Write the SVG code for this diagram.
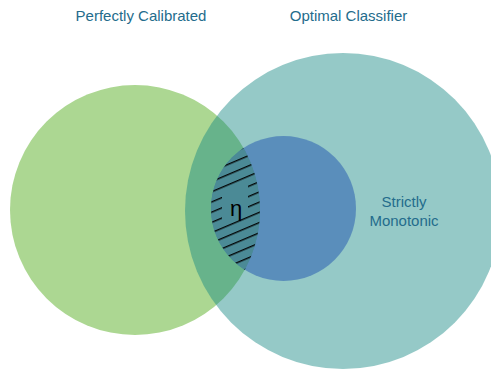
<svg xmlns="http://www.w3.org/2000/svg" width="491" height="370" viewBox="0 0 491 370">
  <style>
    .title { font-family: "Liberation Sans", Arial, sans-serif; font-size: 15px; fill: #246c8c; text-anchor: middle; }
    .eta { font-family: "Liberation Sans", "DejaVu Sans", sans-serif; font-size: 22px; fill: #000; text-anchor: middle; }
  </style>
  <defs>
    <clipPath id="clipGreen"><circle cx="135" cy="210" r="125"/></clipPath>
    <clipPath id="clipBlue"><circle cx="283.5" cy="208.5" r="72.5"/></clipPath>
    <pattern id="hatch" patternUnits="userSpaceOnUse" width="20" height="9.4" patternTransform="rotate(-23)">
      <line x1="0" y1="5.4" x2="20" y2="5.4" stroke="#000" stroke-width="1.3"/>
    </pattern>
    <mask id="gap" maskUnits="userSpaceOnUse" x="0" y="0" width="491" height="370">
      <rect x="0" y="0" width="491" height="370" fill="#fff"/>
      <polygon points="222,193.2 248,182.1 248,212.7 222,223.8" fill="#000"/>
    </mask>
  </defs>
  <rect width="491" height="370" fill="#fff"/>
  <g id="perfectly-calibrated">
    <circle cx="135" cy="210" r="125" fill="#acd792"/>
    <text class="title" x="141" y="21">Perfectly Calibrated</text>
  </g>
  <g id="optimal-classifier">
    <circle cx="343" cy="211" r="158" fill="#138783" fill-opacity="0.45"/>
    <text class="title" x="348.5" y="21">Optimal Classifier</text>
  </g>
  <g id="strictly-monotonic">
    <circle cx="283.5" cy="208.5" r="72.5" fill="#3468b3" fill-opacity="0.6"/>
    <text class="title" x="404" y="207">Strictly</text>
    <text class="title" x="404" y="226">Monotonic</text>
  </g>
  <g id="eta-region">
    <g clip-path="url(#clipBlue)">
      <rect x="200" y="130" width="70" height="160" fill="#4b8a96" clip-path="url(#clipGreen)"/>
      <rect x="200" y="130" width="70" height="160" fill="url(#hatch)" clip-path="url(#clipGreen)" mask="url(#gap)"/>
    </g>
    <text class="eta" x="236" y="216">η</text>
  </g>
  <g id="connectors"/>
</svg>
